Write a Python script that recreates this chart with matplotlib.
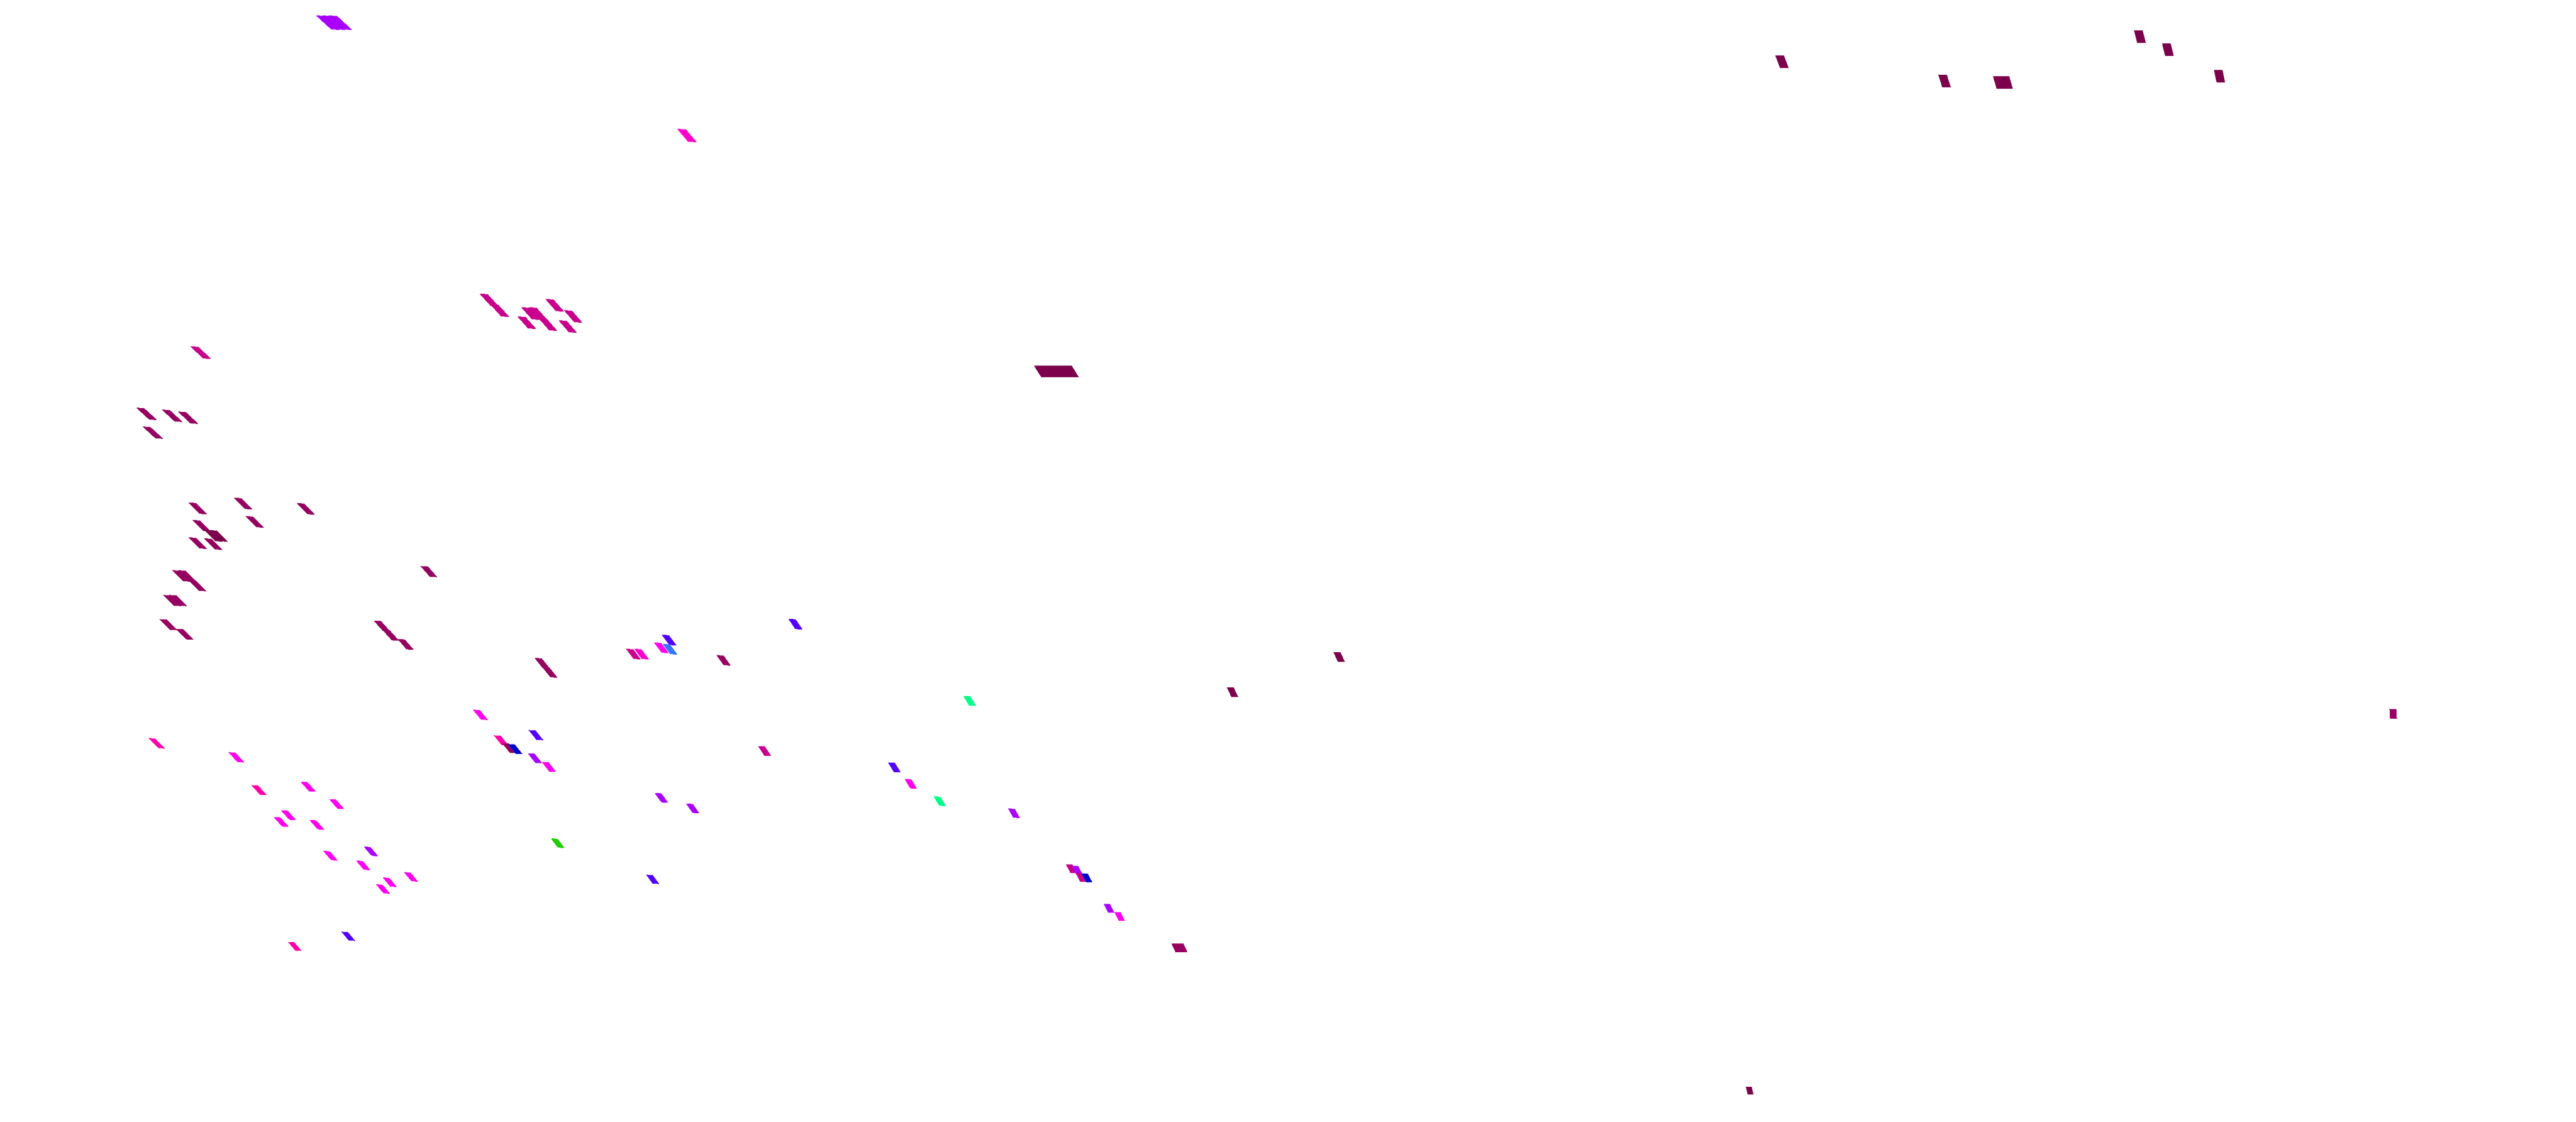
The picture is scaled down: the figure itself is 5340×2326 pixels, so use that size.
import numpy as np
import matplotlib.pyplot as plt
from matplotlib.collections import PolyCollection
from matplotlib.transforms import IdentityTransform

# grid cells: map position (x east, y south) and colour level
cell_x = [68.0, 69.2, 70.5, 142.4,
          101.4, 103.6, 110.0, 111.5, 113.6, 115.0, 118.8, 109.2, 117.7, 41.6,
          30.4, 35.7, 39.0, 31.7, 41.0, 50.4, 63.4, 52.8, 41.8, 44.3, 45.3,
          41.0, 44.2, 37.6, 38.8, 40.9, 88.9, 35.7, 36.9, 34.9, 38.3,
          79.2, 81.0, 84.1, 112.4, 114.0, 150.0,
          215.9, 217.4, 219.0, 220.5, 222.1, 255.5, 277.6, 362.7,
          369.4, 403.1, 443.6, 449.4, 460.1, 414.4, 416.0, 496.1,
          131.3, 133.0, 138.7, 137.1, 138.9, 164.9, 99.6,
          32.5, 49.0, 103.9, 105.6, 106.8, 111.1, 110.9, 113.8, 158.5,
          53.7, 63.9, 69.8, 59.8, 58.3, 65.7, 137.1, 143.6, 115.6,
          68.5, 76.9, 75.3, 85.2, 80.8, 79.4, 135.3, 72.2, 61.1,
          201.0, 185.4, 188.8, 194.8, 210.2,
          222.1, 223.3, 224.1, 225.3, 229.9, 232.1, 243.9, 245.1]
cell_y = [4.7, 4.7, 4.7, 28.1,
          62.2, 64.4, 65.0, 65.0, 67.3, 63.3, 65.6, 66.9, 67.7, 73.1,
          85.8, 86.2, 86.6, 89.7, 105.4, 104.4, 105.5, 108.2, 109.0, 111.1, 111.1,
          112.6, 112.8, 119.4, 119.4, 121.4, 118.5, 124.5, 124.5, 129.5, 131.5,
          129.8, 131.7, 133.6, 137.5, 139.4, 136.9,
          77.0, 77.0, 77.0, 77.0, 77.0, 143.5, 136.2, 226.1,
          12.8, 16.8, 7.6, 10.3, 15.8, 17.1, 17.1, 148.0,
          135.6, 135.6, 132.7, 134.3, 134.6, 129.4, 148.2,
          154.1, 157.0, 153.5, 155.1, 155.3, 152.4, 157.2, 159.0, 155.7,
          163.8, 163.1, 166.7, 169.0, 170.4, 171.0, 165.4, 167.6, 174.8,
          177.4, 176.5, 179.4, 181.8, 182.9, 184.3, 182.3, 194.1, 196.2,
          145.3, 159.1, 162.5, 166.1, 168.6,
          180.1, 180.4, 181.9, 182.0, 188.3, 190.0, 196.5, 196.5]
cell_level = [6, 6, 6, 4,
              2, 2, 2, 2, 2, 2, 2, 2, 2, 2,
              1, 1, 1, 1, 1, 1, 1, 1, 1, 0, 0,
              1, 1, 1, 1, 1, 1, 1, 1, 1, 1,
              1, 1, 1, 1, 1, 1,
              0, 0, 0, 0, 0, 0, 0, 0,
              0, 0, 0, 0, 0, 0, 0, 1,
              2, 4, 7, 5, 9, 7, 5,
              3, 5, 3, 1, 8, 7, 6, 5, 2,
              3, 5, 5, 5, 5, 5, 6, 6, 11,
              5, 6, 5, 5, 5, 5, 7, 7, 3,
              10, 7, 5, 10, 6,
              2, 6, 2, 8, 6, 5, 1, 1]

palette = ['#7c004c', '#960061', '#c8008c', '#ff00aa', '#ff00cc', '#ff00ee',
           '#aa00ff', '#5500ff', '#0000cc', '#3377ff', '#00ff88', '#22cc00']

W, H, DPI = 5340, 2326, 200
fig = plt.figure(figsize=(W / DPI, H / DPI), dpi=DPI)
ax = fig.add_axes([0, 0, 1, 1])
ax.set_xlim(0, W / 10)
ax.set_ylim(H / 10, 0)
ax.axis('off')

pts = np.column_stack([cell_x, cell_y])
disp = ax.transData.transform(pts)
px = disp[:, 0]
py = H - disp[:, 1]  # screen rows, top = 0

# tilted ground plane: cells shrink with depth and lean towards the lower right
verts = []
for x, y in zip(px, py):
    w = 17 - 0.0027 * y
    h = 26 - 0.005 * y
    s = np.tan(np.radians(56.4 - 0.0095 * x - 0.004 * y))
    t = np.tan(np.radians(max(4.5 - 0.001 * x, 0)))
    a, b = w / 2, h / 2
    quad = np.array([[-a - s * b, b], [a - s * b, b],
                     [a + s * b, -b], [-a + s * b, -b]])
    quad[:, 1] -= t * quad[:, 0]
    verts.append(quad)

cells = PolyCollection(verts, offsets=pts, offset_transform=ax.transData,
                       facecolors=[palette[k] for k in cell_level],
                       edgecolors='none', antialiased=False)
cells.set_transform(IdentityTransform())
ax.add_collection(cells)

fig.savefig('out.png', dpi=DPI, facecolor='white')
